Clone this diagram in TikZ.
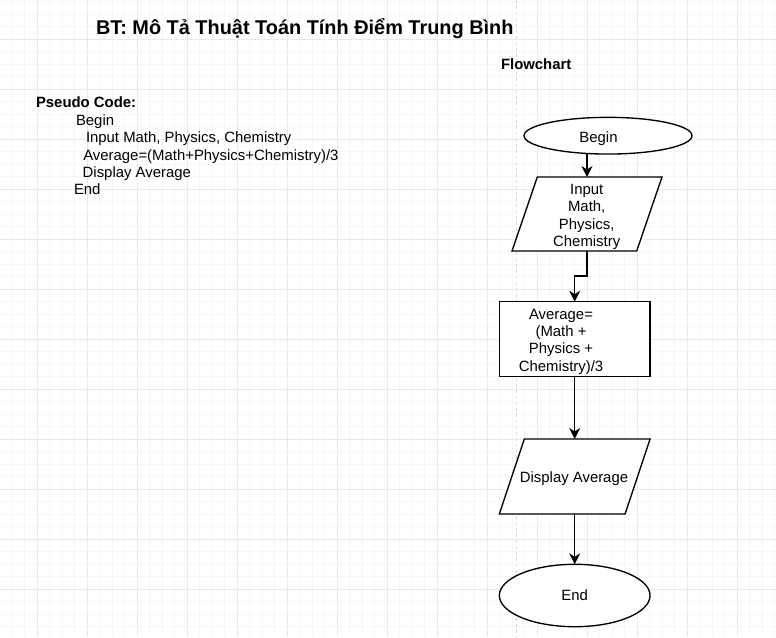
\documentclass[tikz,border=0pt]{standalone}
\usepackage{fontspec}
\setmainfont{Liberation Sans}
\usetikzlibrary{shapes.geometric,arrows.meta,calc}
\pgfdeclarelayer{gridlayer}
\pgfdeclarelayer{shapelayer}
\pgfsetlayers{gridlayer,shapelayer,main}
\begin{document}
\begin{tikzpicture}[x=1pt,y=-1pt,
  minorgrid/.style={draw=gray!7,line width=1pt},
  majorgrid/.style={draw=gray!17,line width=1pt},
  divider/.style={draw=gray!32,line width=1pt,dash pattern=on 3pt off 3pt},
  txt/.style={font=\fontsize{14.9}{17.3}\selectfont,inner sep=0pt,outer sep=0pt},
  boldtxt/.style={font=\fontsize{14.9}{17.3}\selectfont\bfseries,inner sep=0pt,outer sep=0pt},
  titletxt/.style={font=\fontsize{19.9}{24}\selectfont\bfseries,inner sep=0pt,outer sep=0pt},
  shp/.style={draw=black,line width=1.35pt,fill=white},
  term/.style={shp,ellipse,inner sep=0pt,outer sep=0pt},
  proc/.style={shp,rectangle,inner sep=0pt,outer sep=0pt},
  ghost/.style={txt,rectangle,align=center},
  arr/.style={draw=black,line width=1.35pt,-{Stealth[length=11pt,width=11pt,inset=3.5pt]}},
]
\useasboundingbox (0,0) rectangle (776,637);
\begin{pgfonlayer}{gridlayer}
\fill[white] (0,0) rectangle (776,637);
\begin{scope}
\clip (0,0) rectangle (776,637);
\foreach \i in {0,...,62} {\draw[minorgrid] ({-0.5+12.5*\i},0) -- ({-0.5+12.5*\i},637);}
\foreach \i in {0,...,50} {\draw[minorgrid] (0,{1.5+12.5*\i}) -- (776,{1.5+12.5*\i});}
\foreach \i in {0,...,14} {\draw[majorgrid] ({37+50*\i},0) -- ({37+50*\i},637);}
\foreach \i in {0,...,11} {\draw[majorgrid] (0,{39+50*\i}) -- (776,{39+50*\i});}
\end{scope}
\draw[divider] (516,0) -- (516,637);
\end{pgfonlayer}

% title and pseudo code
\node[titletxt,anchor=base west] (title) at (96,34) {BT: Mô Tả Thuật Toán Tính Điểm Trung Bình};
\node[boldtxt,anchor=base west] (flow) at (501,69.5) {Flowchart};
\node[boldtxt,anchor=base west] (pseudo) at (36,107) {Pseudo Code:};
\node[txt,anchor=base west] (p1) at (76,125) {Begin};
\node[txt,anchor=base west] (p2) at (86,142.5) {Input Math, Physics, Chemistry};
\node[txt,anchor=base west] (p3) at (83.3,160) {Average=(Math+Physics+Chemistry)/3};
\node[txt,anchor=base west] (p4) at (82.7,177) {Display Average};
\node[txt,anchor=base west] (p5) at (74,194.3) {End};

% flowchart
\node[term,minimum width=168pt,minimum height=36.7pt] (begin) at (608,135.7) {};
\node[txt,anchor=base] (begint) at (598.5,142.3) {Begin};

\node[ghost,minimum width=150pt,minimum height=74pt] (inp) at (587,214) {};
\begin{pgfonlayer}{shapelayer}
\draw[shp] ([xshift=25.3pt]inp.north west) -- (inp.north east) -- ([xshift=-25.3pt]inp.south east) -- (inp.south west) -- cycle;
\end{pgfonlayer}
\node[ghost] (inpt) at (586.7,217) {Input\\Math,\\Physics,\\Chemistry};

\node[proc,minimum width=150.7pt,minimum height=75pt] (avg) at (574.7,339.2) {};
\node[ghost] (avgt) at (561,341.5) {Average=\\(Math +\\Physics +\\Chemistry)/3};

\node[ghost,minimum width=150.7pt,minimum height=75pt] (disp) at (574.7,476.5) {};
\begin{pgfonlayer}{shapelayer}
\draw[shp] ([xshift=25pt]disp.north west) -- (disp.north east) -- ([xshift=-25pt]disp.south east) -- (disp.south west) -- cycle;
\end{pgfonlayer}
\node[txt,anchor=base] (dispt) at (574,482.5) {Display Average};

\node[term,txt,minimum width=150.7pt,minimum height=62.4pt] (end) at (574.7,595.5) {End};

\draw[arr] (begin.south -| inp.north) -- (inp.north);
\draw[arr] (inp.south) -- ++(0,25) -| (avg.north);
\draw[arr] (avg.south) -- (disp.north);
\draw[arr] (disp.south) -- (end.north);
\end{tikzpicture}
\end{document}
